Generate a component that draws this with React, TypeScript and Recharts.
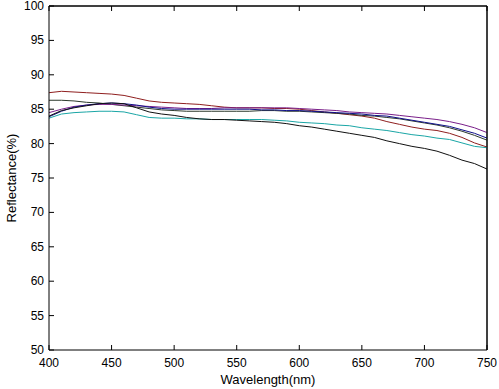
import React from 'react';
import { LineChart, Line, XAxis, YAxis, ReferenceLine } from 'recharts';

const wavelengths = [
  400, 410, 420, 430, 440, 450, 460, 470, 480, 490, 500, 510, 520, 530, 540, 550, 560, 570,
  580, 590, 600, 610, 620, 630, 640, 650, 660, 670, 680, 690, 700, 710, 720, 730, 740, 750,
];

const sampleRed = [
  87.4, 87.6, 87.5, 87.4, 87.3, 87.2, 87.0, 86.6, 86.2, 86.0, 85.9, 85.8, 85.7, 85.5, 85.3, 85.2, 85.2, 85.2,
  85.1, 85.1, 85.0, 84.8, 84.6, 84.4, 84.2, 84.0, 83.7, 83.2, 82.8, 82.4, 82.1, 81.9, 81.5, 80.9, 80.1, 79.5,
];
const samplePurple = [
  84.5, 85.0, 85.4, 85.6, 85.7, 85.7, 85.6, 85.5, 85.4, 85.3, 85.2, 85.1, 85.1, 85.1, 85.2, 85.2, 85.2, 85.2,
  85.2, 85.2, 85.1, 85.0, 84.9, 84.8, 84.6, 84.5, 84.4, 84.3, 84.1, 83.9, 83.7, 83.5, 83.2, 82.8, 82.3, 81.6,
];
const sampleNavy = [
  83.9, 84.7, 85.3, 85.6, 85.8, 85.9, 85.8, 85.6, 85.3, 85.1, 85.0, 85.0, 85.0, 85.0, 85.0, 85.0, 85.0, 84.9,
  84.9, 84.8, 84.8, 84.7, 84.6, 84.5, 84.4, 84.3, 84.1, 84.0, 83.7, 83.4, 83.1, 82.8, 82.5, 82.0, 81.5, 80.8,
];
const sampleGrey = [
  86.3, 86.3, 86.2, 86.0, 85.9, 85.7, 85.5, 85.3, 85.1, 84.9, 84.8, 84.7, 84.7, 84.7, 84.7, 84.7, 84.7, 84.8,
  84.8, 84.7, 84.7, 84.6, 84.5, 84.4, 84.3, 84.1, 84.0, 83.8, 83.6, 83.3, 83.0, 82.7, 82.3, 81.8, 81.2, 80.5,
];
const sampleBlack = [
  84.0, 84.8, 85.2, 85.5, 85.8, 85.9, 85.8, 85.2, 84.6, 84.3, 84.1, 83.8, 83.6, 83.5, 83.5, 83.4, 83.3, 83.2,
  83.1, 82.9, 82.6, 82.4, 82.1, 81.8, 81.5, 81.2, 80.9, 80.4, 80.0, 79.6, 79.3, 78.9, 78.3, 77.6, 77.1, 76.3,
];
const sampleCyan = [
  83.7, 84.3, 84.5, 84.6, 84.7, 84.7, 84.6, 84.2, 83.8, 83.7, 83.7, 83.6, 83.6, 83.5, 83.5, 83.5, 83.5, 83.5,
  83.4, 83.3, 83.1, 83.0, 82.9, 82.7, 82.6, 82.3, 82.1, 81.9, 81.6, 81.3, 81.1, 80.8, 80.6, 80.1, 79.6, 79.4,
];

const xTicks = [400, 450, 500, 550, 600, 650, 700, 750];
const yTicks = [50, 55, 60, 65, 70, 75, 80, 85, 90, 95, 100];

const data = wavelengths.map((w, i) => ({
  w,
  red: sampleRed[i],
  purple: samplePurple[i],
  navy: sampleNavy[i],
  grey: sampleGrey[i],
  black: sampleBlack[i],
  cyan: sampleCyan[i],
}));

const FONT = '"Liberation Sans", Arial, sans-serif';

const BottomTick = (p: any) => (
  <g>
    <line x1={p.x} x2={p.x} y1={p.y} y2={p.y - 5} stroke="#000" />
    <text x={p.x} y={p.y + 17} textAnchor="middle" fontSize={12} fontFamily={FONT} fill="#000">
      {p.payload.value}
    </text>
  </g>
);

const TopTick = (p: any) => <line x1={p.x} x2={p.x} y1={p.y} y2={p.y + 5} stroke="#000" />;

const LeftTick = (p: any) => (
  <g>
    <line x1={p.x} x2={p.x + 5} y1={p.y} y2={p.y} stroke="#000" />
    <text x={p.x - 5} y={p.y + 4} textAnchor="end" fontSize={12} fontFamily={FONT} fill="#000">
      {p.payload.value}
    </text>
  </g>
);

const RightTick = (p: any) => <line x1={p.x} x2={p.x - 5} y1={p.y} y2={p.y} stroke="#000" />;

const YLabel = (p: any) => {
  const vb = p.viewBox;
  const cx = vb.x + 11;
  const cy = vb.y + vb.height / 2;
  return (
    <text
      x={cx}
      y={cy}
      transform={`rotate(-90 ${cx} ${cy})`}
      textAnchor="middle"
      dominantBaseline="central"
      fontSize={13}
      fontFamily={FONT}
      fill="#000"
    >
      Reflectance(%)
    </text>
  );
};

export default function App() {
  return (
    <div style={{ position: 'absolute', left: 0, top: 0, width: 499, height: 389, background: '#fff' }}>
      <LineChart width={499} height={389} data={data} margin={{ top: 5, right: 11, bottom: 0, left: 0 }}>
        <XAxis
          dataKey="w"
          type="number"
          domain={[400, 750]}
          ticks={xTicks}
          interval={0}
          height={39}
          tickSize={0}
          tickMargin={0}
          tick={BottomTick}
          axisLine={{ stroke: '#000' }}
          label={{ value: 'Wavelength(nm)', position: 'insideBottom', offset: 5, fontSize: 13, fill: '#000', fontFamily: FONT }}
        />
        <XAxis
          xAxisId="top"
          orientation="top"
          dataKey="w"
          type="number"
          domain={[400, 750]}
          ticks={xTicks}
          interval={0}
          height={1}
          tickSize={0}
          tickMargin={0}
          tick={TopTick}
          axisLine={{ stroke: '#000' }}
        />
        <YAxis
          type="number"
          domain={[50, 100]}
          ticks={yTicks}
          interval={0}
          width={49}
          tickSize={0}
          tickMargin={0}
          tick={LeftTick}
          axisLine={{ stroke: '#000' }}
          label={{ content: YLabel }}
        />
        <YAxis
          yAxisId="right"
          orientation="right"
          type="number"
          domain={[50, 100]}
          ticks={yTicks}
          interval={0}
          width={1}
          tickSize={0}
          tickMargin={0}
          tick={RightTick}
          axisLine={{ stroke: '#000' }}
        />
        <ReferenceLine y={100} stroke="#000" ifOverflow="visible" />
        <ReferenceLine x={750} stroke="#000" ifOverflow="visible" />
        <Line dataKey="red" stroke="#8f1f1f" strokeWidth={1} dot={false} isAnimationActive={false} />
        <Line dataKey="grey" stroke="#2c3a2c" strokeWidth={1} dot={false} isAnimationActive={false} />
        <Line dataKey="purple" stroke="#7a1f8a" strokeWidth={1} dot={false} isAnimationActive={false} />
        <Line dataKey="navy" stroke="#10108a" strokeWidth={1} dot={false} isAnimationActive={false} />
        <Line dataKey="cyan" stroke="#1aa6a6" strokeWidth={1} dot={false} isAnimationActive={false} />
        <Line dataKey="black" stroke="#111111" strokeWidth={1} dot={false} isAnimationActive={false} />
      </LineChart>
    </div>
  );
}
